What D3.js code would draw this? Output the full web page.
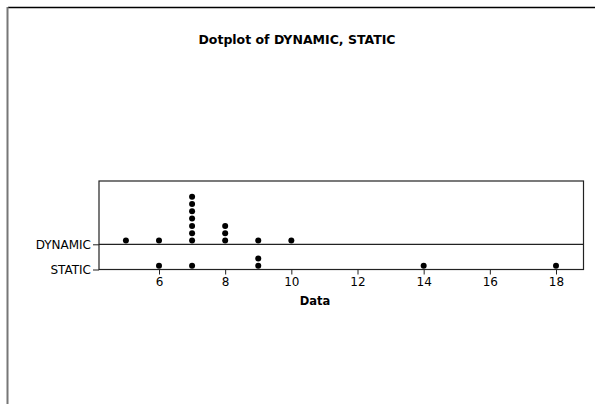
<!DOCTYPE html>
<html>
<head>
<meta charset="utf-8">
<script src="https://cdn.jsdelivr.net/npm/d3@7"></script>
<style>
    body { margin: 0; background: #fff; }
    svg text { font-family: "DejaVu Sans", Verdana, sans-serif; fill: #000; }
</style>
</head>
<body>
<div id="vis-container"></div>
<script>
var categories = ["DYNAMIC", "STATIC"];
var dynamicValues = [5, 6, 7, 7, 7, 7, 7, 7, 7, 8, 8, 8, 9, 10];
var staticValues = [6, 7, 9, 9, 14, 18];
var xTicks = [6, 8, 10, 12, 14, 16, 18];

var width = 595;
var height = 404;

// plot box
var box = { left: 99, right: 583.5, top: 181, bottom: 269.5 };
var dotR = 3;
var dotStep = 7.3;

var svg = d3.select("#vis-container").append("svg")
    .attr("width", width).attr("height", height);

// page frame (top + left)
svg.append("line").attr("x1", 8).attr("x2", width).attr("y1", 7.5).attr("y2", 7.5)
    .attr("stroke", "#000").attr("stroke-width", 1.5);
svg.append("line").attr("x1", 7.5).attr("x2", 7.5).attr("y1", 7).attr("y2", height)
    .attr("stroke", "#777").attr("stroke-width", 2);

svg.append("text").text("Dotplot of DYNAMIC, STATIC")
    .attr("x", 297).attr("y", 44)
    .attr("text-anchor", "middle")
    .attr("font-size", 12.5).attr("font-weight", "bold");

var x = d3.scaleLinear().domain([6, 18]).range([159, 556]);
var y = d3.scalePoint().domain(categories).range([244.3, box.bottom]);

// box
svg.append("rect")
    .attr("x", box.left).attr("y", box.top)
    .attr("width", box.right - box.left).attr("height", box.bottom - box.top)
    .attr("fill", "none").attr("stroke", "#222").attr("stroke-width", 1.2);
svg.append("line")
    .attr("x1", box.left).attr("x2", box.right)
    .attr("y1", y("DYNAMIC")).attr("y2", y("DYNAMIC"))
    .attr("stroke", "#222").attr("stroke-width", 1.2);

// x axis
var xAxis = svg.append("g")
    .attr("transform", "translate(0," + box.bottom + ")")
    .call(d3.axisBottom(x).tickValues(xTicks).tickSize(5).tickSizeOuter(0).tickPadding(3));
xAxis.select(".domain").remove();
xAxis.selectAll("line").attr("stroke", "#222");
xAxis.selectAll("text").attr("font-size", 12).attr("font-family", "DejaVu Sans");

// y axis
var yAxis = svg.append("g")
    .attr("transform", "translate(" + box.left + ",0)")
    .call(d3.axisLeft(y).tickSize(6).tickPadding(2));
yAxis.select(".domain").remove();
yAxis.selectAll("line").attr("stroke", "#222");
yAxis.selectAll("text").attr("font-size", 12).attr("font-family", "DejaVu Sans");

svg.append("text").text("Data")
    .attr("x", 315).attr("y", 305)
    .attr("text-anchor", "middle")
    .attr("font-size", 11.5).attr("font-weight", "bold");

// stack dots per value
function stack(values, cat) {
    var counts = {};
    return values.map(function (v) {
        counts[v] = (counts[v] || 0) + 1;
        return { value: v, cat: cat, level: counts[v] - 1 };
    });
}
var points = stack(dynamicValues, "DYNAMIC").concat(stack(staticValues, "STATIC"));

svg.append("g").selectAll("circle")
    .data(points)
    .enter().append("circle")
    .attr("cx", function (d) { return x(d.value); })
    .attr("cy", function (d) { return y(d.cat) - 3.8 - d.level * dotStep; })
    .attr("r", dotR)
    .attr("fill", "#000");
</script>
</body>
</html>
